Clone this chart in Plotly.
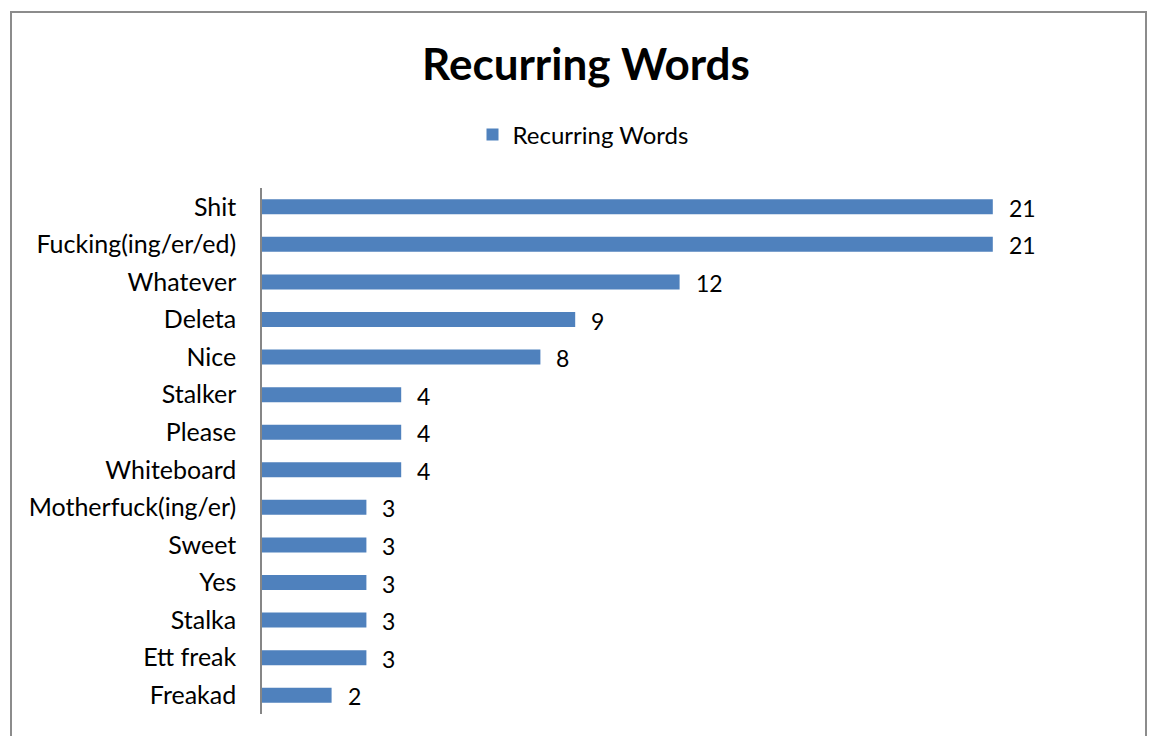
import plotly.graph_objects as go

words = ["Shit", "Fucking(ing/er/ed)", "Whatever", "Deleta", "Nice", "Stalker",
         "Please", "Whiteboard", "Motherfuck(ing/er)", "Sweet", "Yes", "Stalka",
         "Ett freak", "Freakad"]
counts = [21, 21, 12, 9, 8, 4, 4, 4, 3, 3, 3, 3, 3, 2]
series_name = "Recurring Words"
title_text = "Recurring Words"

W, H = 1149, 736
FONT = "Lato, Calibri, 'Open Sans', sans-serif"
BAR = "#4F81BD"

fig = go.Figure()
fig.add_trace(go.Bar(
    x=counts, y=words, orientation="h", name=series_name,
    marker=dict(color=BAR, line=dict(width=0)),
    showlegend=True,
))

for w, c in zip(words, counts):
    fig.add_annotation(x=c, y=w, text=str(c), showarrow=False,
                       xanchor="left", yanchor="middle", xshift=14, yshift=-1,
                       font=dict(family=FONT, size=23, color="#000000"))

L, R, T, B = 262, 17, 188, 22
fig.update_layout(
    width=W, height=H,
    margin=dict(l=L, r=R, t=T, b=B),
    paper_bgcolor="white", plot_bgcolor="white",
    bargap=0.6,
    font=dict(family=FONT, size=22, color="#000000"),
    title=dict(text="<b>" + title_text + "</b>", xref="container", yref="container",
               x=586 / W, y=1 - 65 / H, xanchor="center", yanchor="middle",
               font=dict(family=FONT, size=44, color="#000000")),
    legend=dict(orientation="h", xref="container", yref="container",
                x=583 / W, y=1 - 135 / H, xanchor="center", yanchor="middle",
                font=dict(family=FONT, size=24, color="#000000"),
                itemwidth=30, bgcolor="rgba(0,0,0,0)"),
    xaxis=dict(range=[0, 25], visible=False, showgrid=False, zeroline=False),
    yaxis=dict(autorange="reversed", showline=True, linecolor="#868686", linewidth=1.5,
               ticks="", showgrid=False, ticklabelstandoff=19,
               tickfont=dict(family=FONT, size=25, color="#000000")),
)

# outer chart border (top, left, right); bottom is cropped in the reference
pl = lambda px: (px - L) / (W - L - R)
pt = lambda py: (H - B - py) / (H - T - B)
fig.add_shape(type="path", xref="paper", yref="paper",
              path=f"M {pl(11)} {pt(740)} L {pl(11)} {pt(12)} L {pl(1146)} {pt(12)} L {pl(1146)} {pt(740)}",
              line=dict(color="#8C8C8C", width=2), layer="above")

fig.write_html("out.html")
